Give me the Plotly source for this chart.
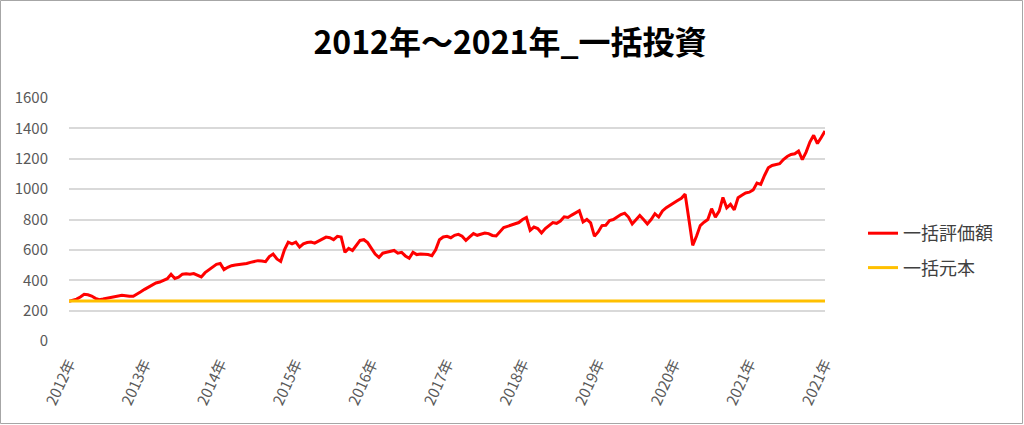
import plotly.graph_objects as go

title_text = "2012年～2021年_一括投資"
series_names = ["一括評価額", "一括元本"]
tick_labels = ["2012年", "2013年", "2014年", "2015年", "2016年", "2017年",
               "2018年", "2019年", "2020年", "2021年", "2021年"]
points_per_label = 20

valuation = [
    262, 268, 276, 290, 308, 304, 296, 281, 272, 276,
    281, 285, 289, 296, 301, 298, 294, 295, 308, 324,
    340, 355, 370, 382, 388, 398, 410, 440, 412, 420,
    440, 443, 440, 444, 432, 422, 450, 470, 490, 505,
    510, 470, 485, 496, 500, 502, 506, 510, 518, 524,
    529, 526, 522, 556, 573, 540, 524, 600, 651, 640,
    651, 618, 640, 648, 651, 644, 658, 670, 684, 680,
    667, 689, 684, 584, 610, 596, 629, 662, 667, 648,
    610, 573, 550, 578, 584, 592, 596, 578, 584, 560,
    545, 584, 569, 573, 571, 569, 562, 600, 667, 685,
    689, 680, 696, 702, 690, 662, 685, 707, 696, 703,
    711, 707, 695, 692, 718, 747, 755, 762, 770, 780,
    800, 813, 729, 750, 740, 711, 740, 762, 780, 775,
    790, 818, 813, 829, 845, 858, 784, 800, 778, 690,
    718, 760, 762, 793, 800, 815, 833, 842, 816, 771,
    800, 827, 800, 771, 800, 838, 816, 856, 878, 895,
    910, 925, 940, 967, 800, 630, 690, 760, 782, 800,
    871, 816, 855, 945, 877, 900, 864, 943, 960, 975,
    980, 995, 1040, 1031, 1090, 1140, 1156, 1160, 1167, 1195,
    1215, 1228, 1233, 1251, 1194, 1244, 1310, 1354, 1300, 1340,
    1383,
]
principal_value = 263

x_idx = list(range(len(valuation)))
principal = [principal_value for _ in x_idx]
tick_vals = [i * points_per_label for i in range(len(tick_labels))]

W, H = 1024, 425
L, R, T, B = 69, 199, 98, 84
PW, PH = W - L - R, H - T - B

font_family = "Noto Sans CJK JP"

fig = go.Figure()
fig.add_trace(go.Scatter(x=x_idx, y=valuation, mode="lines", name=series_names[0],
                         line=dict(color="#ff0000", width=3), legendgroup="a"))
fig.add_trace(go.Scatter(x=x_idx, y=principal, mode="lines", name=series_names[1],
                         line=dict(color="#ffc000", width=3), legendgroup="b"))

fig.update_layout(
    width=W, height=H,
    margin=dict(l=L, r=R, t=T, b=B),
    paper_bgcolor="white", plot_bgcolor="white",
    font=dict(family=font_family, color="#595959", size=14),
    title=dict(text="<b>" + title_text + "</b>", x=(510 / W), xanchor="center",
               y=1 - 43 / H, yanchor="middle",
               font=dict(family=font_family, size=32, color="#000000")),
    showlegend=True,
    legend=dict(x=(863 - L) / PW, xanchor="left", y=(341 - 215) / PH, yanchor="top",
                font=dict(family=font_family, size=18, color="#404040"),
                tracegroupgap=8, traceorder="grouped",
                bgcolor="rgba(0,0,0,0)", borderwidth=0),
    xaxis=dict(range=[0, len(valuation) - 1], tickmode="array", tickvals=tick_vals,
               ticktext=tick_labels, tickangle=-65, showgrid=False, zeroline=False,
               showline=False, ticks="", tickfont=dict(size=15, color="#595959"),
               ticklabelstandoff=10, fixedrange=True),
    yaxis=dict(range=[0, 1600], dtick=200, showgrid=True, gridcolor="#d9d9d9",
               gridwidth=1.5, zeroline=False, showline=False, ticks="",
               tickfont=dict(size=15, color="#595959"), ticklabelstandoff=20,
               fixedrange=True),
    shapes=[dict(type="rect", xref="paper", yref="paper",
                 x0=(0.5 - L) / PW, x1=(W - 1.5 - L) / PW,
                 y0=(H - B - (H - 1.5)) / PH, y1=(H - B - 0.5) / PH,
                 line=dict(color="#a6a6a6", width=1), fillcolor="rgba(0,0,0,0)",
                 layer="below")],
)

fig.write_html("out.html", config={"displayModeBar": False},
               post_script="document.body.style.margin='0';document.body.style.padding='0';")
